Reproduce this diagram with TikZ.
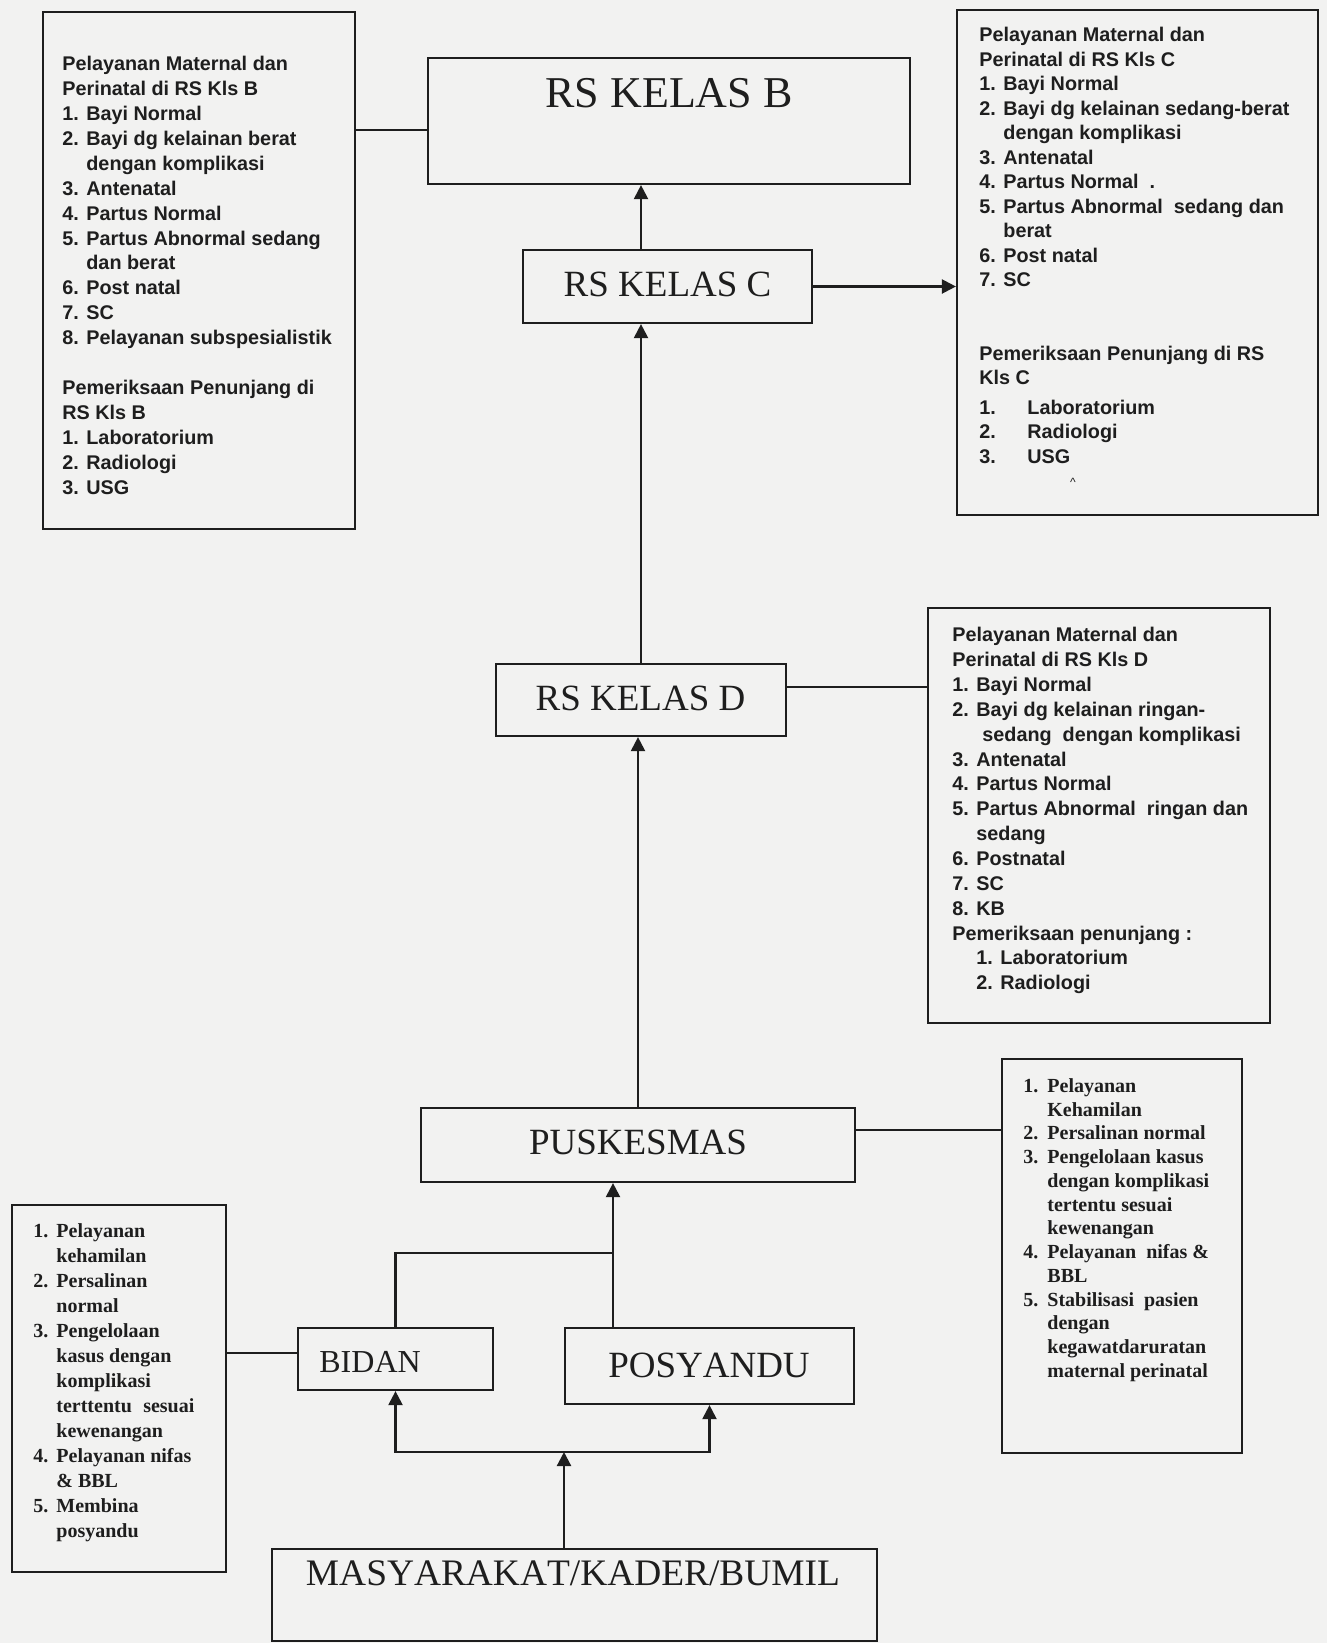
\documentclass[tikz,border=0pt]{standalone}
\usepackage{fontspec}
\setmainfont{Liberation Serif}
\newfontfamily\labfont{Liberation Serif}[Kerning=Off]
\newfontfamily\sansfnt{Liberation Sans}
\usetikzlibrary{arrows.meta}
\definecolor{paper}{RGB}{242,242,241}
\definecolor{ink}{RGB}{30,30,30}
\newcommand\nb[2][12pt]{\makebox[#1][l]{#2}}
\newcommand\ind[1][12pt]{\makebox[#1]{}}
\newcommand\bnb[1]{\makebox[11.5pt][l]{#1}}
\newcommand\bind{\makebox[11.5pt]{}}
\begin{document}
\begin{tikzpicture}[x=0.5pt,y=-0.5pt,
  box/.style={draw=ink, line width=1.1pt, inner sep=0pt},
  conn/.style={draw=ink, line width=1.1pt},
  arr/.style={conn, -{Triangle[length=7pt,width=7pt]}},
  info/.style={anchor=north west, inner sep=0pt, align=left, text=ink},
  sinfo/.style={info, font=\sansfnt\bfseries\fontsize{9.9pt}{#1}\selectfont},
  tinfo/.style={info, font=\bfseries\fontsize{10pt}{#1}\selectfont},
  lab/.style={anchor=base, inner sep=0pt, text=ink, font=\labfont\fontsize{#1}{#1}\selectfont},
]
\fill[paper] (0,0) rectangle (1327,1643);
\useasboundingbox (0,0) rectangle (1327,1643);

% boxes
\node[box, minimum width=156pt, minimum height=258.5pt] (binfo) at (199,270.5) {};
\node[box, minimum width=241pt, minimum height=63pt] (rsb) at (669,121) {};
\node[box, minimum width=180.5pt, minimum height=252.5pt] (cinfo) at (1137.5,262.5) {};
\node[box, minimum width=144.5pt, minimum height=36.5pt] (rsc) at (667.5,286.5) {};
\node[box, minimum width=145pt, minimum height=36pt] (rsd) at (641,700) {};
\node[box, minimum width=171pt, minimum height=207.5pt] (dinfo) at (1099,815.5) {};
\node[box, minimum width=217pt, minimum height=37pt] (pusk) at (638,1145) {};
\node[box, minimum width=120pt, minimum height=197pt] (pinfo) at (1122,1256) {};
\node[box, minimum width=97.5pt, minimum height=31pt] (bidan) at (395.5,1359) {};
\node[box, minimum width=144.5pt, minimum height=38pt] (posy) at (709.5,1366) {};
\node[box, minimum width=302.5pt, minimum height=46pt] (masy) at (574.5,1595) {};
\node[box, minimum width=107pt, minimum height=183.5pt] (bidinfo) at (119,1388.5) {};

% labels
\node[lab=22pt] (rsbT) at (669,108) {RS KELAS B};
\node[lab=18.5pt] (rscT) at (667.5,296) {RS KELAS C};
\node[lab=18.5pt] (rsdT) at (640.5,710) {RS KELAS D};
\node[lab=18.5pt] (puskT) at (638,1154) {PUSKESMAS};
\node[lab=18.5pt] (posyT) at (709,1377) {POSYANDU};
\node[lab=18.7pt] (masyT) at (573,1585) {MASYARAKAT/KADER/BUMIL};
\node[lab=16pt, anchor=base west] (bidanT) at (319,1372) {BIDAN};

% info texts
\node[sinfo=12.45pt] (binfoT) at (62,56) {Pelayanan Maternal dan\\
Perinatal di RS Kls B\\
\nb{1.}Bayi Normal\\
\nb{2.}Bayi dg kelainan berat\\
\ind dengan komplikasi\\
\nb{3.}Antenatal\\
\nb{4.}Partus Normal\\
\nb{5.}Partus Abnormal sedang\\
\ind dan berat\\
\nb{6.}Post natal\\
\nb{7.}SC\\
\nb{8.}Pelayanan subspesialistik\\[12.45pt]
Pemeriksaan Penunjang di\\
RS Kls B\\
\nb{1.}Laboratorium\\
\nb{2.}Radiologi\\
\nb{3.}USG};

\node[sinfo=12.25pt] (cinfoT) at (979,27) {Pelayanan Maternal dan\\
Perinatal di RS Kls C\\
\nb{1.}Bayi Normal\\
\nb{2.}Bayi dg kelainan sedang-berat\\
\ind dengan komplikasi\\
\nb{3.}Antenatal\\
\nb{4.}Partus Normal\ \ .\\
\nb{5.}Partus Abnormal\ \ sedang dan\\
\ind berat\\
\nb{6.}Post natal\\
\nb{7.}SC\\[24.5pt]
Pemeriksaan Penunjang di RS\\
Kls C\\[2.5pt]
\nb[24pt]{1.}Laboratorium\\
\nb[24pt]{2.}Radiologi\\
\nb[24pt]{3.}USG};
\node[inner sep=0pt, text=ink, font=\sansfnt\fontsize{6pt}{6pt}\selectfont] (caret) at (1073,482) {\textasciicircum};

\node[sinfo=12.43pt] (dinfoT) at (952,627) {Pelayanan Maternal dan\\
Perinatal di RS Kls D\\
\nb{1.}Bayi Normal\\
\nb{2.}Bayi dg kelainan ringan-\\
\ind[15pt]sedang\ \ dengan komplikasi\\
\nb{3.}Antenatal\\
\nb{4.}Partus Normal\\
\nb{5.}Partus Abnormal\ \ ringan dan\\
\ind sedang\\
\nb{6.}Postnatal\\
\nb{7.}SC\\
\nb{8.}KB\\
Pemeriksaan penunjang :\\
\ind\nb{1.}Laboratorium\\
\ind\nb{2.}Radiologi};

\node[tinfo=11.875pt] (pinfoT) at (1023,1078) {\nb{1.}Pelayanan\\
\ind Kehamilan\\
\nb{2.}Persalinan normal\\
\nb{3.}Pengelolaan kasus\\
\ind dengan komplikasi\\
\ind tertentu sesuai\\
\ind kewenangan\\
\nb{4.}Pelayanan\ \ nifas \&\\
\ind BBL\\
\nb{5.}Stabilisasi\ \ pasien\\
\ind dengan\\
\ind kegawatdaruratan\\
\ind maternal perinatal};

\node[tinfo=12.5pt] (bidinfoT) at (33,1223) {\bnb{1.}Pelayanan\\
\bind kehamilan\\
\bnb{2.}Persalinan\\
\bind normal\\
\bnb{3.}Pengelolaan\\
\bind kasus dengan\\
\bind komplikasi\\
\bind\makebox[69pt][s]{terttentu\hfill sesuai}\\
\bind kewenangan\\
\bnb{4.}Pelayanan nifas\\
\bind\&~BBL\\
\bnb{5.}Membina\\
\bind posyandu};

% connectors
\coordinate (rsbIn) at ([yshift=-4.5pt]rsb.west);
\draw[conn] (binfo.east |- rsbIn) -- (rsbIn);
\draw[arr] (rsd.north |- rsc.north) -- (rsd.north |- rsb.south);
\draw[arr] (rsd.north) -- (rsd.north |- rsc.south);
\draw[arr] (rsc.east) -- (rsc.east -| cinfo.west);
\coordinate (rsdOut) at ([yshift=6.5pt]rsd.east);
\draw[conn] (rsdOut) -- (rsdOut -| dinfo.west);
\draw[arr] (pusk.north) -- (pusk.north |- rsd.south);
\coordinate (puskOut) at ([yshift=7.5pt]pusk.east);
\draw[conn] (puskOut) -- (puskOut -| pinfo.west);
\coordinate (j1) at (613,1253);
\draw[arr] (j1 |- posy.north) -- (j1 |- pusk.south);
\draw[conn] (bidan.north) |- (j1);
\coordinate (j2) at (564,1452);
\draw[arr] (j2 |- masy.north) -- (j2);
\draw[arr] (j2) -| (bidan.south);
\draw[arr] (j2) -| (posy.south);
\coordinate (bidIn) at ([yshift=3pt]bidan.west);
\draw[conn] (bidinfo.east |- bidIn) -- (bidIn);
\end{tikzpicture}
\end{document}
